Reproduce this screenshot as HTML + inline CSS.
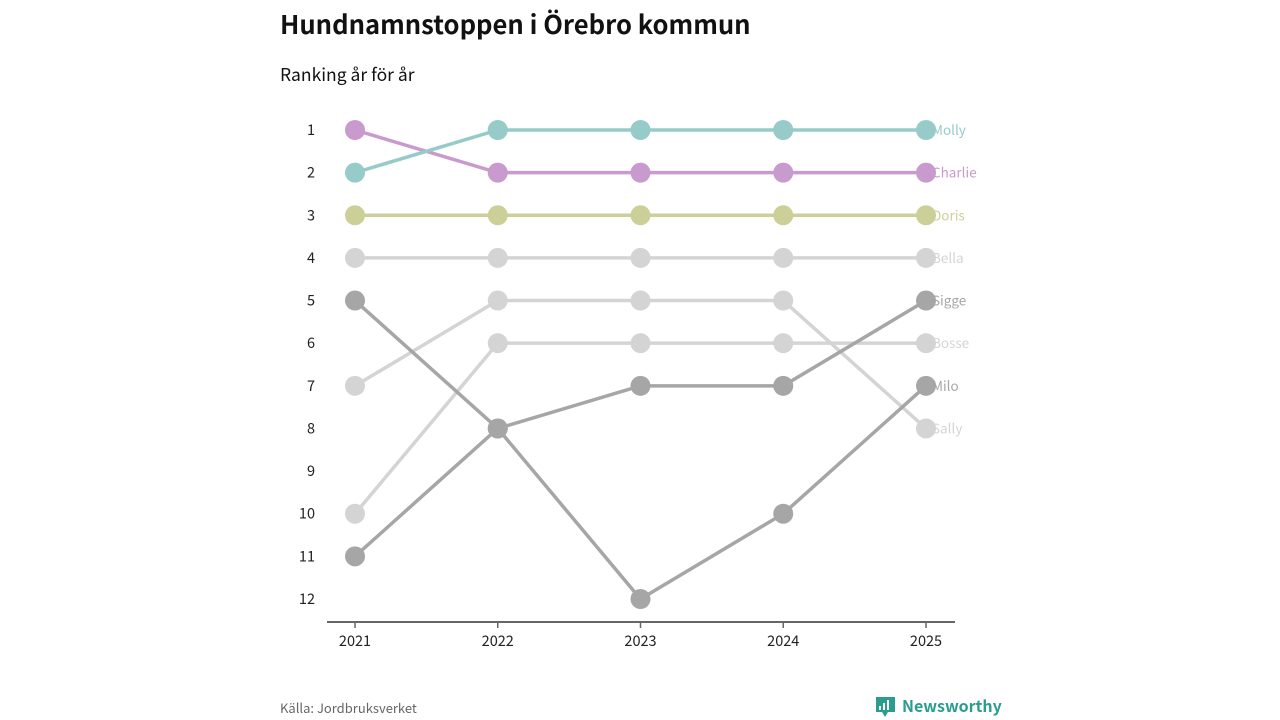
<!DOCTYPE html>
<html><head><meta charset="utf-8"><style>
body{margin:0;width:1280px;height:720px;background:#fff;font-family:"Noto Sans CJK SC","Liberation Sans",sans-serif;overflow:hidden}
</style></head><body>
<svg width="1280" height="720" style="position:absolute;left:0;top:0">
<text x="280" y="34" font-size="25.6" font-weight="700" fill="#111">Hundnamnstoppen i Örebro kommun</text>
<text x="280" y="81" font-size="17.5" fill="#111">Ranking år för år</text>
<g id="yaxis"></g>
<line x1="327" y1="622" x2="955" y2="622" stroke="#666" stroke-width="2"/>
<g id="xaxis"></g>
<g id="series"></g>
<text x="280" y="713" font-size="13" fill="#666">Källa: Jordbruksverket</text>
<g>
<path d="M876 697h19v15h-7l-3 5-3-5h-6z" fill="#2a9d8f"/>
<rect x="879" y="706" width="2" height="4" fill="#fff"/><rect x="883" y="703" width="2" height="7" fill="#fff"/><rect x="887" y="700" width="2" height="10" fill="#fff"/>
<text x="902" y="712" font-size="16" font-weight="700" fill="#2a9d8f">Newsworthy</text>
</g>
</svg>
<script>
const years=[2021,2022,2023,2024,2025];
const names=["Bella","Bosse","Sally","Sigge","Milo","Doris","Charlie","Molly"];
const bella=[4,4,4,4,4];
const bosse=[10,6,6,6,6];
const sally=[7,5,5,5,8];
const sigge=[11,8,7,7,5];
const milo=[5,8,12,10,7];
const doris=[3,3,3,3,3];
const charlie=[1,2,2,2,2];
const molly=[2,1,1,1,1];
const rankTicks=[1,2,3,4,5,6,7,8,9,10,11,12];
const values=[bella,bosse,sally,sigge,milo,doris,charlie,molly];
const colors=["#d4d4d4","#d4d4d4","#d4d4d4","#a6a6a6","#a6a6a6","#cccf98","#c99acd","#96cbc9"];
const NS="http://www.w3.org/2000/svg";
const x=i=>355+i*142.75;
const y=r=>130+(r-1)*(599-130)/11;
function mk(t,a,p){const e=document.createElementNS(NS,t);for(const k in a)e.setAttribute(k,a[k]);p.appendChild(e);return e;}
const ya=document.getElementById('yaxis');
rankTicks.forEach(r=>{const t=mk('text',{x:315,y:y(r)+5,'font-size':14.5,fill:'#222','text-anchor':'end'},ya);t.textContent=r;

});
const xa=document.getElementById('xaxis');
years.forEach((yr,i)=>{const l=mk('line',{x1:x(i),x2:x(i),y1:622,y2:628,stroke:'#666','stroke-width':1.5},xa);


const t=mk('text',{x:x(i),y:646,'font-size':14.5,fill:'#222','text-anchor':'middle'},xa);t.textContent=yr;

});
const sg=document.getElementById('series');
values.forEach((v,s)=>{const g=mk('g',{},sg);


const p=mk('polyline',{points:v.map((r,i)=>x(i)+','+y(r)).join(' '),fill:'none',stroke:colors[s],'stroke-width':3.5},g);


v.forEach((r,i)=>{const c=mk('circle',{cx:x(i),cy:y(r),r:10,fill:colors[s]},g);

});
const t=mk('text',{x:x(4)+6,y:y(v[4])+5,'font-size':13.5,fill:colors[s]},g);t.textContent=names[s];

});
</script>
</body></html>
